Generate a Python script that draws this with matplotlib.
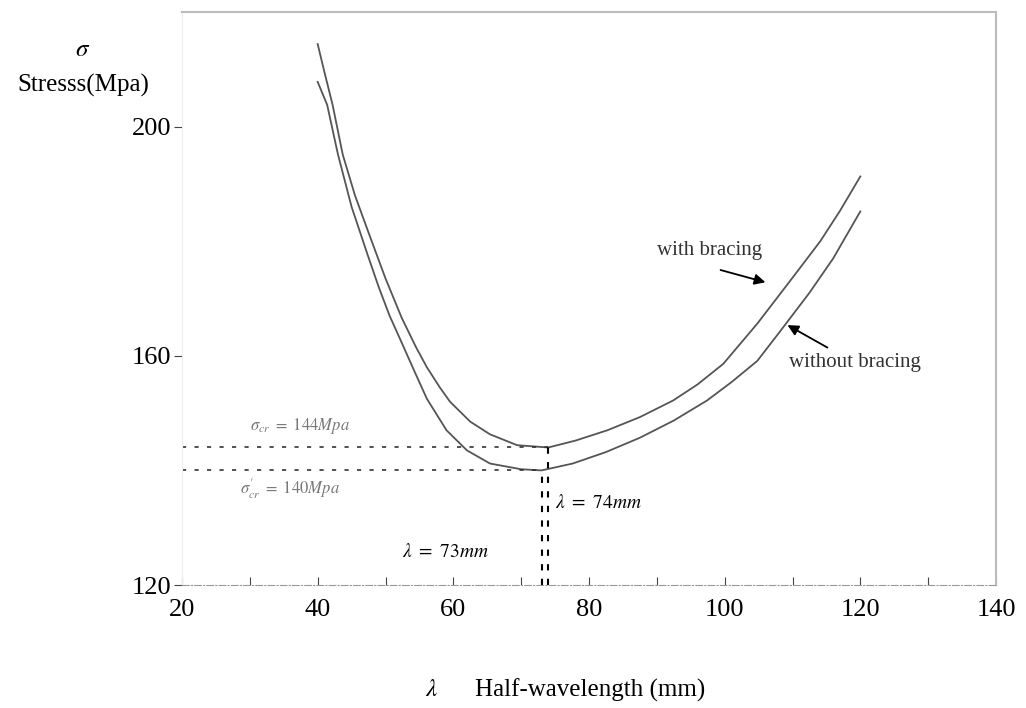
import matplotlib
matplotlib.use("Agg")
import matplotlib.pyplot as plt
import numpy as np

plt.rcParams["font.family"] = ["Liberation Serif", "DejaVu Serif"]
plt.rcParams["mathtext.fontset"] = "stix"

# Curve data (half-wavelength in mm, stress in MPa)
x_with = [40, 41, 42.2, 43.7, 45.5, 47.5, 50, 52.4, 54.5, 56.1, 58, 59.5, 62.5, 65.4, 69.4, 74,
          78, 82.7, 87.5, 92.4, 96, 99.8, 104.8, 109.6, 114.1, 117, 120]
y_with = [214.4, 209.5, 203.8, 195.1, 188.0, 181.5, 173.5, 166.6, 161.5, 158.0, 154.5, 152.0,
          148.5, 146.3, 144.4, 144.0,
          145.2, 147.0, 149.3, 152.2, 155.0, 158.6, 165.6, 173.0, 180.0, 185.3, 191.3]

x_without = [40, 41.4, 43, 45, 47.4, 49, 50.6, 52.5, 54, 56.1, 59, 62, 65.4, 70, 73,
             77.6, 82.5, 87.5, 92.5, 97.4, 101, 104.8, 108, 112.5, 116, 120]
y_without = [207.8, 203.8, 195.1, 186.0, 177.5, 172.0, 167.0, 162.0, 158.0, 152.5, 147.0,
             143.5, 141.2, 140.2, 140.0,
             141.2, 143.2, 145.7, 148.7, 152.2, 155.4, 159.1, 164.0, 171.0, 177.0, 185.2]

# Minimum points
lam_with, sig_with = 74, 144
lam_without, sig_without = 73, 140

x_ticks = [20, 40, 60, 80, 100, 120, 140]
y_ticks = [120, 160, 200]

fig = plt.figure(figsize=(10.26, 7.08), dpi=100)
ax = fig.add_axes([182 / 1026, 1 - 585 / 708, (996 - 182) / 1026, (585 - 12) / 708])

line_col = "#555555"
ax.plot(x_with, y_with, color=line_col, lw=1.3)
ax.plot(x_without, y_without, color=line_col, lw=1.3)

# dashed guide lines
ax.plot([20, lam_with], [sig_with, sig_with], color="#333333", lw=1.2, ls=(0, (2.5, 5)))
ax.plot([20, lam_without], [sig_without, sig_without], color="#333333", lw=1.2, ls=(0, (2.5, 5)))
ax.plot([lam_with, lam_with], [120, sig_with], color="black", lw=1.5, ls=(0, (3, 4)))
ax.plot([lam_without, lam_without], [120, sig_without], color="black", lw=1.5, ls=(0, (3, 4)))

# annotations
ax.text(37.4, 147.8, r"$\sigma_{cr}\ =\ 144Mpa$", fontsize=12, color="#777777",
        ha="center", va="center")
ax.text(35.9, 136.9, r"$\sigma_{cr}^{\prime}\ =\ 140Mpa$", fontsize=12, color="#777777",
        ha="center", va="center")
ax.text(75.0, 134.3, r"$\lambda\ =\ 74mm$", fontsize=14, ha="left", va="center")
ax.text(58.8, 125.7, r"$\lambda\ =\ 73mm$", fontsize=14, ha="center", va="center")

ax.text(97.8, 178.3, "with bracing", fontsize=15, color="#333333", ha="center", va="center")
ax.text(119.2, 158.8, "without bracing", fontsize=15, color="#333333", ha="center", va="center")
ax.annotate("", xy=(106.4, 172.7), xytext=(99.0, 175.1),
            arrowprops=dict(arrowstyle="-|>", color="black", lw=1.3, mutation_scale=16))
ax.annotate("", xy=(108.9, 165.6), xytext=(115.5, 161.2),
            arrowprops=dict(arrowstyle="-|>", color="black", lw=1.3, mutation_scale=16))

ax.set_xlim(20, 140)
ax.set_ylim(120, 220)
ax.set_xticks(x_ticks)
ax.set_xticks(np.arange(30, 140, 20), minor=True)
ax.set_yticks(y_ticks)
ax.tick_params(axis="x", direction="in", length=6, width=0.8, color="#444444",
               labelsize=19, pad=10)
ax.tick_params(axis="x", which="minor", direction="in", length=6, width=0.8, color="#444444")
ax.tick_params(axis="y", direction="out", length=6, width=0.8, color="#444444",
               labelsize=19, pad=2)

for side in ["top", "right"]:
    ax.spines[side].set_color("#bbbbbb")
    ax.spines[side].set_linewidth(1.5)
ax.spines["left"].set_color("#eeeeee")
ax.spines["bottom"].set_color("#999999")
ax.spines["bottom"].set_linewidth(0.8)
ax.spines["bottom"].set_linestyle((0, (6, 2, 1, 2)))

fig.text(83 / 1026, 1 - 50 / 708, r"$\sigma$", fontsize=18, ha="center", va="center")
fig.text(83 / 1026, 1 - 85 / 708, "Stresss(Mpa)", fontsize=18, ha="center", va="center")
fig.text(432 / 1026, 1 - 690 / 708, r"$\lambda$", fontsize=18, ha="center", va="center")
fig.text(590 / 1026, 1 - 690 / 708, "Half-wavelength (mm)", fontsize=18, ha="center", va="center")

fig.savefig("out.png", dpi=100)
